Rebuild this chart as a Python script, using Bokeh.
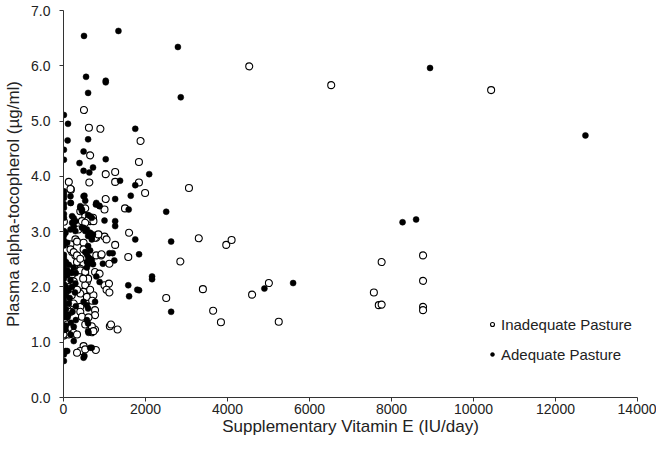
from bokeh.plotting import figure
from bokeh.models import Legend, LegendItem, FixedTicker, PrintfTickFormatter, Range1d
from bokeh.embed import file_html
from bokeh.resources import INLINE

x_ticks = [0, 2000, 4000, 6000, 8000, 10000, 12000, 14000]
y_ticks = [0, 1, 2, 3, 4, 5, 6, 7]

# Inadequate Pasture (open circles)
inadequate_x = [4530, 6530, 10430, 1880, 1840, 1840, 1990, 3060, 3300, 3970, 4100, 2850, 3400, 2505,
                3650, 3840, 4600, 5010, 5250, 7570, 7760, 7690, 7760, 8770, 8770, 8770, 8770,
                500, 620, 900, 650, 1260, 1030, 130, 630, 1260, 180, 1030, 1500, 1000, 530, 720,
                450, 650, 10, 1600, 290, 800, 1000, 1050, 170, 330, 490, 490, 1260, 1580, 210,
                290, 800, 920, 330, 490, 1120,
                170, 410, 530, 610, 730, 530, 370, 770, 850, 170, 250, 330, 410, 930, 50, 130,
                210, 410, 530, 570,
                130, 410, 530, 770, 880, 1000, 1110, 1130, 1160, 1320, 770, 690, 10, 130, 250,
                490, 410, 330, 790,
                530, 490, 570, 410, 410, 410, 450, 730, 770, 770, 530, 690, 730, 10, 90, 170,
                250, 330, 0, 530,
                130, 200, 250, 90, 170, 330, 250, 90, 600, 650, 700, 480, 1050, 1120, 610]
inadequate_y = [5.99, 5.65, 5.56, 4.64, 4.26, 3.89, 3.70, 3.79, 2.88, 2.76, 2.85, 2.46, 1.96, 1.80,
                1.57, 1.36, 1.86, 2.07, 1.37, 1.90, 2.45, 1.67, 1.68, 2.57, 2.11, 1.64, 1.58,
                5.20, 4.88, 4.86, 4.38, 4.08, 4.04, 3.90, 3.89, 3.90, 3.76, 3.59, 3.42, 3.40, 3.28, 3.25,
                3.19, 3.19, 3.18, 2.98, 2.86, 2.89, 2.91, 2.86, 2.77, 2.82, 2.80, 2.68, 2.76, 2.54, 2.63,
                2.57, 2.57, 2.57, 2.45, 2.42, 2.42,
                3.77, 3.37, 3.42, 3.22, 3.19, 3.16, 3.04, 2.89, 2.95, 2.68, 2.63, 2.57, 2.51, 2.59, 2.36, 2.30,
                2.23, 2.33, 2.24, 2.09,
                2.36, 2.30, 2.27, 2.27, 2.24, 2.03, 2.06, 1.29, 1.32, 1.23, 1.23, 1.18, 1.12, 1.14, 1.14,
                0.93, 0.84, 0.81, 0.86,
                2.03, 1.91, 1.82, 1.88, 1.64, 1.55, 1.46, 1.85, 1.58, 1.49, 1.32, 1.29, 1.20, 1.38, 1.32, 1.26,
                1.17, 1.14, 1.14, 0.87,
                2.00, 1.85, 1.70, 1.60, 1.55, 1.95, 2.10, 1.75, 2.15, 1.95, 1.75, 2.15, 1.95, 1.90, 1.45]

# Adequate Pasture (filled circles)
adequate_x = [2790, 2860, 2090, 2505, 2625, 1843, 2160, 2160, 1843, 2625, 4900, 5600, 8270, 8600, 8940, 12730,
              500, 1340, 550, 1030, 1030, 600, 10, 110, 1750, 100, 600, 10, 490, 10, 1030, 390, 720, 490,
              630, 1380, 1750, 10, 10, 10, 1640, 490, 1260, 530, 180, 10, 10, 790, 870, 1590, 410, 450,
              10, 10, 210, 250, 600, 690, 1000, 1260, 1260, 210, 250, 490, 570, 10, 10, 10, 10, 290,
              650, 720, 690, 1750, 90, 600, 650, 570, 1120, 1200, 10, 10, 650, 960, 600, 720, 1240,
              510, 170, 170, 800, 880, 410, 450, 290, 650, 50, 170, 450, 530, 600, 690, 530, 600, 690,
              90, 170, 800, 880, 290,
              10, 10, 10, 570, 570, 1580, 1800, 1600, 10, 10, 10, 10, 10, 10, 10, 10, 10, 10, 10, 10,
              60, 120, 40, 150, 490, 570, 600, 770, 570, 600, 600, 50, 170, 250, 610, 650, 690, 510, 490,
              10, 10, 90, 50,
              60, 130, 250, 90, 300, 200, 280, 130, 60, 220, 100, 300, 180, 60, 250, 120, 40, 200, 300]
adequate_y = [6.34, 5.43, 4.04, 3.36, 2.82, 2.59, 2.19, 2.14, 1.94, 1.55, 1.97, 2.07, 3.17, 3.22, 5.96, 4.74,
              6.54, 6.63, 5.80, 5.73, 5.70, 5.51, 5.11, 4.95, 4.86, 4.65, 4.67, 4.48, 4.45, 4.30, 4.31, 4.24, 4.16, 4.10,
              4.07, 3.92, 3.84, 3.73, 3.67, 3.61, 3.65, 3.64, 3.59, 3.56, 3.52, 3.50, 3.43, 3.49, 3.47, 3.40, 3.43, 3.37,
              3.32, 3.25, 3.28, 3.24, 3.30, 3.25, 3.20, 3.19, 3.10, 3.16, 3.10, 3.07, 3.04, 3.01, 2.93, 2.84, 2.75, 3.01,
              2.98, 2.95, 2.86, 2.86, 2.80, 2.74, 2.66, 2.59, 2.61, 2.61, 2.58, 2.52, 2.51, 2.42, 2.41, 2.41, 2.48,
              3.65, 3.64, 3.52, 3.52, 3.46, 3.46, 3.40, 3.19, 3.28, 2.98, 3.04, 3.07, 3.01, 2.92, 2.89, 2.63, 2.54, 2.48,
              2.21, 2.12, 2.19, 2.09, 2.06,
              2.40, 2.33, 2.26, 2.45, 2.35, 2.03, 1.95, 1.83, 2.15, 2.05, 1.98, 1.90, 1.82, 1.75, 1.68, 1.60, 1.52, 1.45, 1.30, 1.22,
              2.00, 1.93, 1.85, 1.80, 1.73, 1.67, 1.61, 1.73, 1.40, 1.34, 1.20, 1.23, 1.14, 1.02, 1.17, 0.90, 0.90, 0.75, 0.72,
              0.78, 0.66, 0.84, 0.84,
              2.45, 2.40, 2.35, 2.30, 2.25, 2.00, 1.90, 1.70, 1.60, 1.55, 1.45, 1.40, 1.35, 1.30, 1.28, 1.50, 1.95, 2.25, 1.65]

FONT = "Liberation Sans"

p = figure(width=656, height=439, output_backend="svg", toolbar_location=None,
           x_range=Range1d(0, 14000), y_range=Range1d(0, 7),
           min_border_left=63, min_border_right=19, min_border_top=10, min_border_bottom=42)
p.outline_line_color = None
p.grid.visible = False
p.background_fill_color = "white"
p.border_fill_color = "white"

r_open = p.scatter(inadequate_x, inadequate_y, size=7, marker="circle",
                   fill_color="white", line_color="black", line_width=1.1)
r_fill = p.scatter(adequate_x, adequate_y, size=6, marker="circle",
                   fill_color="black", line_color="black", line_width=0.5)

for ax in (p.xaxis[0], p.yaxis[0]):
    ax.axis_line_color = "#333333"
    ax.major_tick_line_color = "#333333"
    ax.major_tick_out = 4
    ax.major_tick_in = 0
    ax.minor_tick_line_color = None
    ax.major_label_text_font = FONT
    ax.major_label_text_font_size = "14px"
    ax.major_label_text_color = "#222222"
    ax.axis_label_text_font = FONT
    ax.axis_label_text_font_size = "17px"
    ax.axis_label_text_font_style = "normal"
    ax.axis_label_text_color = "#222222"

p.xaxis[0].ticker = FixedTicker(ticks=x_ticks)
p.yaxis[0].ticker = FixedTicker(ticks=y_ticks)
p.yaxis[0].formatter = PrintfTickFormatter(format="%.1f")
p.xaxis[0].axis_label = "Supplementary Vitamin E (IU/day)"
p.yaxis[0].axis_label = "Plasma alpha-tocopherol (µg/ml)"
p.xaxis[0].major_label_standoff = 2
p.yaxis[0].major_label_standoff = 9
p.xaxis[0].axis_label_standoff = 0
p.yaxis[0].axis_label_standoff = 5

legend = Legend(items=[LegendItem(label="Inadequate Pasture", renderers=[r_open]),
                       LegendItem(label="Adequate Pasture", renderers=[r_fill])],
                location=(424, 33), border_line_color=None, background_fill_alpha=0,
                padding=0, margin=0, spacing=10, glyph_height=20, label_height=20,
                glyph_width=10, label_standoff=4,
                label_text_font=FONT, label_text_font_size="15px", label_text_color="#222222")
p.add_layout(legend)

open("out.html", "w").write(file_html(p, INLINE))
